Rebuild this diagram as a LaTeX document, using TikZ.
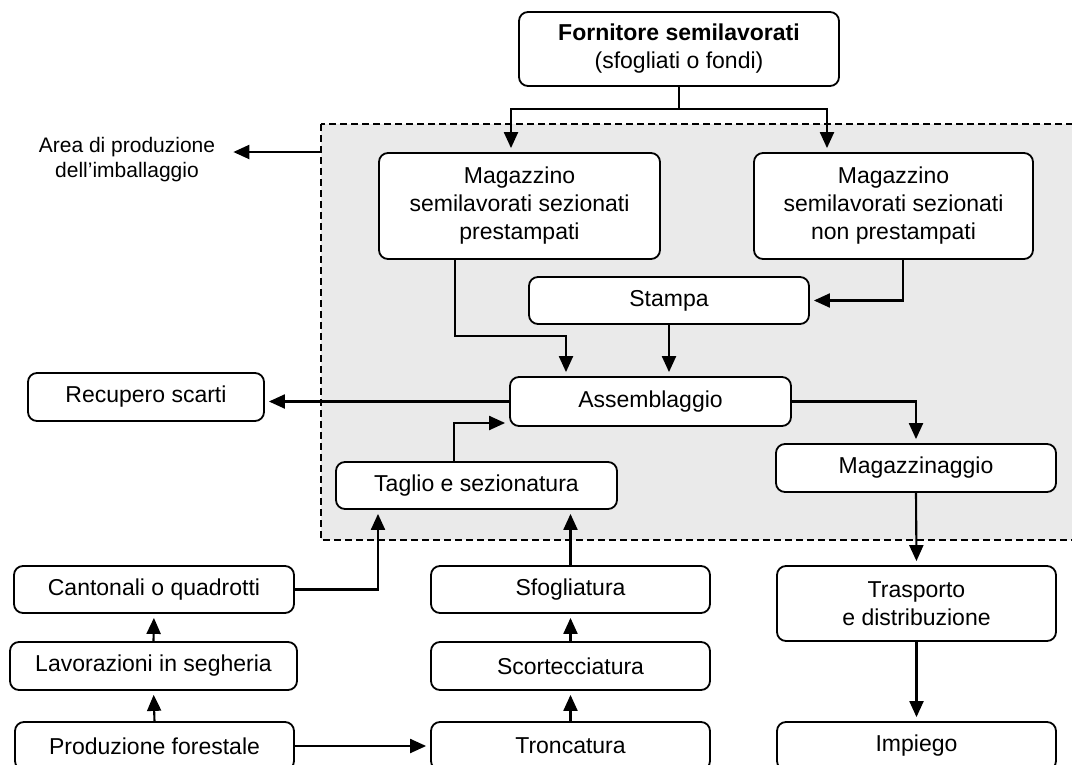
\documentclass[tikz,border=0pt]{standalone}
\usepackage{fontspec}
\setmainfont{Liberation Sans}
\usetikzlibrary{arrows.meta}
\definecolor{areagray}{RGB}{234,234,234}
\begin{document}
\begin{tikzpicture}[x=1pt,y=-1pt,
  blok/.style={rectangle,draw,fill=white,line width=1.8pt,rounded corners=9pt,inner sep=0pt,align=center,font=\fontsize{23}{28}\selectfont},
  freccia/.style={line width=2.1pt,-{Triangle[length=16pt,width=14pt]},shorten >=4pt},
  linea/.style={line width=2.1pt}]
\useasboundingbox (0,0) rectangle (1072,764);
% area di produzione
\draw[fill=areagray,line width=1.4pt,dash pattern=on 7pt off 4pt] (321,124) rectangle (1095,540);
\node[align=center,font=\fontsize{21}{25}\selectfont,inner xsep=14pt] (area) at (127,160) {Area di produzione\\dell’imballaggio};
% blocchi
\node[blok,minimum width=320pt,minimum height=74pt] (forn) at (679,49) {\textbf{Fornitore semilavorati}\\(sfogliati o fondi)};
\node[blok,minimum width=281pt,minimum height=106pt] (magp) at (519.5,206) {Magazzino\\semilavorati sezionati\\prestampati};
\node[blok,minimum width=279pt,minimum height=106pt] (magn) at (893.5,206) {Magazzino\\semilavorati sezionati\\non prestampati};
\node[blok,minimum width=280pt,minimum height=47pt] (stampa) at (669,300.5) {Stampa};
\node[blok,minimum width=281pt,minimum height=49pt] (asm) at (650.5,401.5) {Assemblaggio};
\node[blok,minimum width=236pt,minimum height=48pt] (recup) at (146,397) {Recupero scarti};
\node[blok,minimum width=280pt,minimum height=48pt] (magaz) at (916,468) {Magazzinaggio};
\node[blok,minimum width=281pt,minimum height=47pt] (taglio) at (476.5,485.5) {Taglio e sezionatura};
\node[blok,minimum width=280pt,minimum height=47pt] (cant) at (154,589.5) {Cantonali o quadrotti};
\node[blok,minimum width=287pt,minimum height=48pt] (lav) at (153.5,666) {Lavorazioni in segheria};
\node[blok,minimum width=279pt,minimum height=48pt] (prod) at (154.5,746) {Produzione forestale};
\node[blok,minimum width=279pt,minimum height=47pt] (sfogl) at (570.5,589.5) {Sfogliatura};
\node[blok,minimum width=279pt,minimum height=48pt] (scort) at (570.5,666) {Scortecciatura};
\node[blok,minimum width=279pt,minimum height=48pt] (tronc) at (570.5,746) {Troncatura};
\node[blok,minimum width=279pt,minimum height=75pt] (trasp) at (916.5,603.5) {Trasporto\\e distribuzione};
\node[blok,minimum width=279pt,minimum height=48pt] (impiego) at (916.5,746) {Impiego};
% collegamenti
\coordinate (split) at (679,109);
\coordinate (areaedge) at (321,152);
\coordinate (gomito) at (566,336);
\draw[freccia] (areaedge) -- (areaedge -| area.east);
\draw[linea] (forn.south) -- (split);
\draw[freccia] (split) -| ([xshift=-8.5pt]magp.north);
\draw[freccia] (split) -| ([xshift=-66.5pt]magn.north);
\draw[freccia] ([xshift=-64.5pt]magp.south) |- (gomito) -- (gomito |- asm.north);
\draw[freccia] ([xshift=9.5pt]magn.south) |- (stampa.east);
\draw[freccia] (stampa.south) -- (stampa.south |- asm.north);
\draw[freccia] (asm.west) -- (asm.west -| recup.east);
\draw[freccia] (asm.east) -| (magaz.north);
\draw[freccia] (magaz.south) -- (trasp.north);
\draw[freccia] (trasp.south) -- (impiego.north);
\draw[freccia] ([xshift=-22.5pt]taglio.north) |- ([yshift=-21.5pt]asm.west);
\draw[freccia] (cant.east) -| ([xshift=-98.5pt]taglio.south);
\draw[freccia] (sfogl.north) -- (sfogl.north |- taglio.south);
\draw[freccia] (scort.north) -- (sfogl.south);
\draw[freccia] (tronc.north) -- (scort.south);
\draw[freccia] (lav.north) -- (cant.south);
\draw[freccia] (prod.north) -- (lav.south);
\draw[freccia] (prod.east) -- (tronc.west);
\end{tikzpicture}
\end{document}
